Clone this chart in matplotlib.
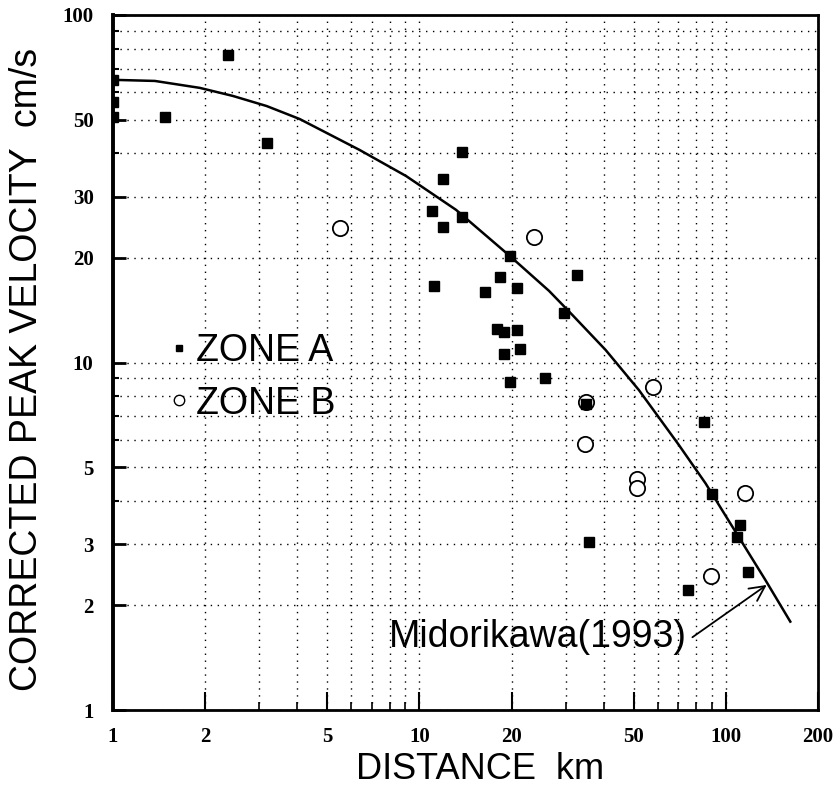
import matplotlib
matplotlib.use("Agg")
import matplotlib.pyplot as plt
from matplotlib.lines import Line2D
from matplotlib.ticker import FixedLocator, NullFormatter

# zone A (filled squares): distance km, corrected peak velocity cm/s
zone_a_dist = [1.0, 1.0, 1.0, 1.48, 2.37, 3.18, 13.8, 11.9, 10.96, 11.97, 13.8,
               19.7, 11.16, 18.3, 16.4, 20.8, 17.9, 18.9, 20.8, 18.9, 21.3,
               19.8, 25.7, 32.7, 29.7, 34.9, 35.8, 84.8, 90.3, 111.1, 108.8,
               118.0, 75.4]
zone_a_vel = [65.0, 56.2, 50.9, 50.8, 76.7, 42.9, 40.4, 33.7, 27.2, 24.6, 26.3,
              20.3, 16.6, 17.6, 16.0, 16.4, 12.5, 12.2, 12.4, 10.6, 10.9,
              8.77, 9.03, 17.9, 13.9, 7.6, 3.05, 6.73, 4.18, 3.40, 3.14,
              2.50, 2.21]

# zone B (open circles)
zone_b_dist = [5.49, 23.7, 57.8, 34.9, 34.7, 51.4, 51.4, 115.9, 89.6]
zone_b_vel = [24.4, 22.9, 8.52, 7.71, 5.82, 4.62, 4.35, 4.22, 2.43]

# Midorikawa (1993) curve
curve_dist = [1.054, 1.37, 1.92, 2.46, 3.174, 4.066, 6.378, 9.05, 13.17, 19.74,
              26.52, 31.58, 40.56, 52.06, 70.29, 85.9, 134.7, 162.4]
curve_vel = [65.0, 64.6, 61.7, 58.5, 54.7, 50.2, 40.9, 34.4, 27.5, 20.25,
             16.06, 13.70, 10.86, 8.33, 5.79, 4.49, 2.366, 1.796]

x_major = [1, 2, 5, 10, 20, 50, 100, 200]
x_minor = [3, 4, 6, 7, 8, 9, 30, 40, 60, 70, 80, 90]
y_major = [1, 2, 3, 5, 10, 20, 30, 50, 100]
y_minor = [4, 6, 7, 8, 9, 40, 60, 70, 80, 90]

sans = "Liberation Sans"
serif = "Liberation Serif"

fig = plt.figure(figsize=(8.35, 7.9), dpi=100)
ax = fig.add_axes([113/835, 1 - 710/790, 705/835, 695/790])
ax.set_xscale("log")
ax.set_yscale("log")
ax.set_xlim(1, 200)
ax.set_ylim(1, 100)

ax.xaxis.set_major_locator(FixedLocator(x_major))
ax.xaxis.set_minor_locator(FixedLocator(x_minor))
ax.yaxis.set_major_locator(FixedLocator(y_major))
ax.yaxis.set_minor_locator(FixedLocator(y_minor))
ax.set_xticklabels([str(v) for v in x_major], fontfamily=serif, fontweight="bold", fontsize=15)
ax.set_yticklabels([str(v) for v in y_major], fontfamily=serif, fontweight="bold", fontsize=15)
ax.xaxis.set_minor_formatter(NullFormatter())
ax.yaxis.set_minor_formatter(NullFormatter())

ax.tick_params(axis="x", which="major", direction="in", length=13, width=1.5, pad=12)
ax.tick_params(axis="x", which="minor", direction="in", length=6, width=1.2)
ax.tick_params(axis="y", which="major", direction="in", length=9, width=2, pad=14)
ax.tick_params(axis="y", which="minor", direction="in", length=4, width=1.5)

ax.grid(True, which="both", color="black", linestyle=(0, (1, 4)), linewidth=1.0)
for s in ax.spines.values():
    s.set_linewidth(2)
ax.spines["left"].set_linewidth(2.8)

ax.plot(curve_dist, curve_vel, color="black", lw=1.8, zorder=2)
ax.plot(zone_b_dist, zone_b_vel, "o", mfc="white", mec="black", ms=11, mew=1.3,
        ls="none", zorder=3)
ax.plot(zone_a_dist, zone_a_vel, "s", color="black", ms=6.5, ls="none", zorder=4)

ax.annotate("Midorikawa(1993)", xy=(136, 2.29), xytext=(7.98, 1.62),
            textcoords="data", ha="left", va="center", fontsize=27, fontfamily=sans,
            arrowprops=dict(arrowstyle="->", lw=1.3, color="black",
                            relpos=(1.0, 0.4), shrinkA=2, shrinkB=0))

handles = [Line2D([], [], marker="s", color="black", ls="none", ms=4.5),
           Line2D([], [], marker="o", mfc="white", mec="black", mew=1.0, ls="none", ms=7.5)]
ax.legend(handles, ["ZONE A", "ZONE B"], loc="upper left",
          bbox_to_anchor=(170/835, 1 - 333/790), bbox_transform=fig.transFigure,
          frameon=False, prop={"family": sans, "size": 27}, handlelength=0.5,
          handletextpad=0.2, labelspacing=0.44, borderpad=0, borderaxespad=0)

ax.set_xlabel("DISTANCE  km", fontfamily=sans, fontsize=26)
ax.set_ylabel("CORRECTED PEAK VELOCITY  cm/s", fontfamily=sans, fontsize=27)
ax.xaxis.set_label_coords(0.52, -0.06)
ax.yaxis.set_label_coords(-0.097, 0.49)

fig.savefig("out.png", dpi=100)
